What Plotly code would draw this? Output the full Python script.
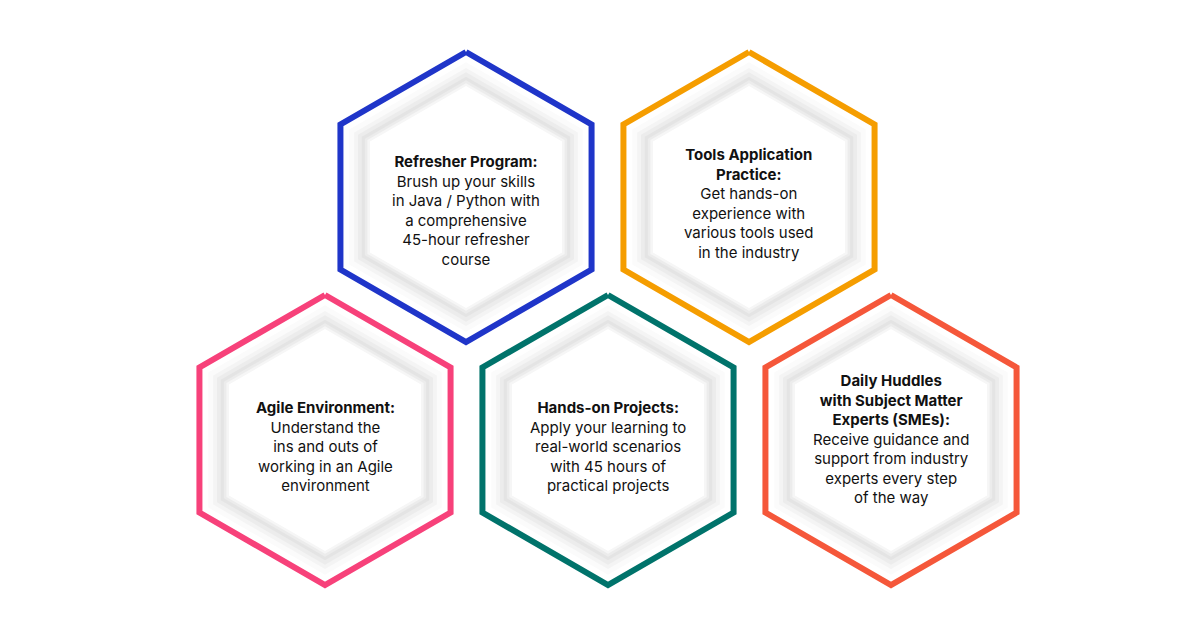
import numpy as np
import plotly.graph_objects as go

centers_x = [458, 741, 317, 600, 883]
centers_y = [189, 189, 432, 432, 432]
colors = ["#1f35c9", "#f59d00", "#f7417a", "#00736b", "#f5573a"]
titles = [["Refresher Program:"], ["Tools Application", "Practice:"], ["Agile Environment:"],
          ["Hands-on Projects:"], ["Daily Huddles", "with Subject Matter", "Experts (SMEs):"]]
bodies = [["Brush up your skills", "in Java / Python with", "a comprehensive", "45-hour refresher", "course"],
          ["Get hands-on", "experience with", "various tools used", "in the industry"],
          ["Understand the", "ins and outs of", "working in an Agile", "environment"],
          ["Apply your learning to", "real-world scenarios", "with 45 hours of", "practical projects"],
          ["Receive guidance and", "support from industry", "experts every step", "of the way"]]
text_y = [202, 195, 438, 438, 431]

R = 145.0
ang = np.deg2rad(np.array([90, 30, -30, -90, -150, -210, 90]))

def hexpts(cx, cy, s):
    return cx + R * s * np.cos(ang), cy - R * s * np.sin(ang)

fig = go.Figure()
layers = [(0.93, "#fbfbfb"), (0.89, "#f4f4f4"), (0.86, "#ececec"), (0.83, "#e4e4e4"),
          (0.805, "#ececec"), (0.785, "#f6f6f6"), (0.765, "#ffffff")]
for cx, cy, c in zip(centers_x, centers_y, colors):
    for s, fc in layers:
        x, y = hexpts(cx, cy, s)
        fig.add_trace(go.Scatter(x=x, y=y, mode="lines", fill="toself", fillcolor=fc,
                                 line=dict(width=0, color=fc), hoverinfo="skip", showlegend=False))
    x, y = hexpts(cx, cy, 1.0)
    fig.add_trace(go.Scatter(x=x, y=y, mode="lines", line=dict(width=6, color=c),
                             hoverinfo="skip", showlegend=False))

for cx, ty, t, b in zip(centers_x, text_y, titles, bodies):
    txt = "<br>".join(["<b>%s</b>" % l for l in t] + b)
    fig.add_annotation(x=cx, y=ty, text=txt, showarrow=False, xanchor="center", yanchor="middle",
                       align="center", font=dict(family="Inter", size=15, color="#111111"))

fig.update_xaxes(range=[0, 1201], visible=False)
fig.update_yaxes(range=[622, 0], visible=False)
fig.update_layout(width=1201, height=622, margin=dict(l=0, r=0, t=0, b=0),
                  paper_bgcolor="white", plot_bgcolor="white")
fig.write_html("out.html")
